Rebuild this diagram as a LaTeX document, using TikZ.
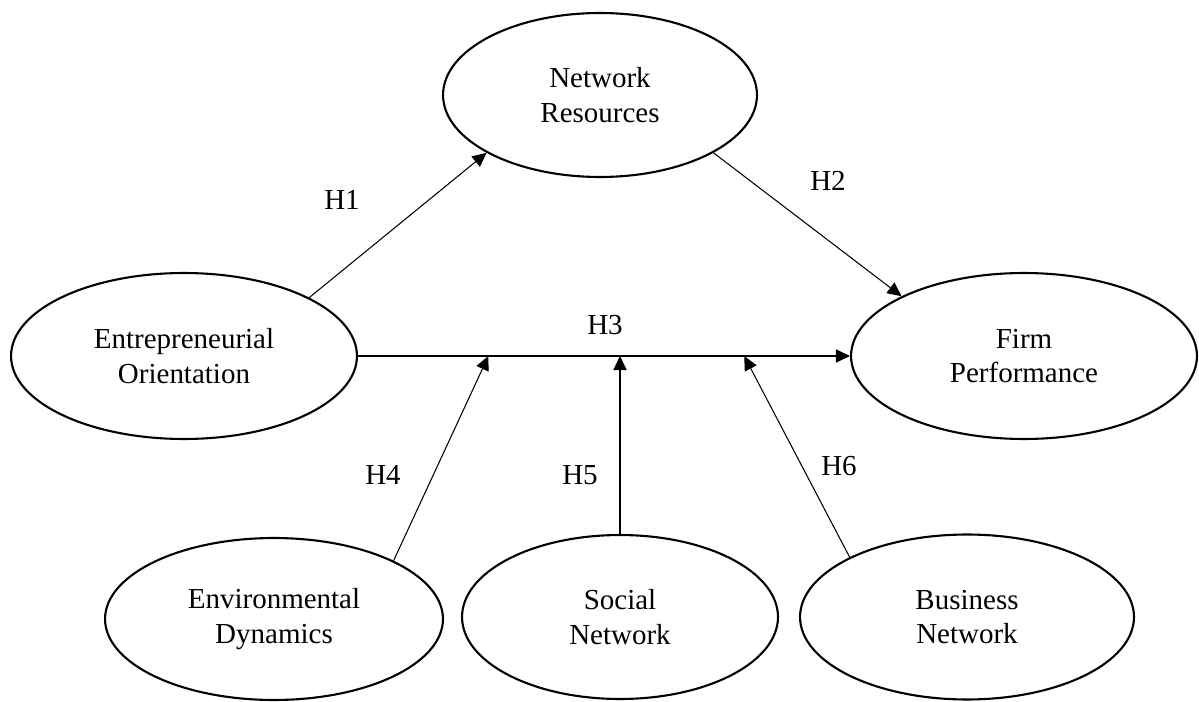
\documentclass[tikz,border=0pt]{standalone}
\usepackage{fontspec}
\setmainfont{Liberation Serif}
\usetikzlibrary{shapes.geometric,arrows.meta,calc}
\tikzset{
  var/.style={ellipse, draw, line width=1.2pt, inner sep=0pt, align=center,
    font=\fontsize{16.5}{19.85}\selectfont},
  link/.style={line width=0.6pt, -{Triangle[length=8pt,width=7.5pt]}},
  hyp/.style={font=\fontsize{16.5}{19.85}\selectfont, inner sep=0pt}
}
\begin{document}
\begin{tikzpicture}[x=0.02cm, y=-0.02cm]
\useasboundingbox (0,0) rectangle (1199,702);
\node[var, minimum width=6.28cm, minimum height=3.28cm] (NR) at (600,95) {Network\\Resources};
\node[var, minimum width=6.92cm, minimum height=3.32cm] (EO) at (184,356) {Entrepreneurial\\Orientation};
\node[var, minimum width=6.92cm, minimum height=3.32cm] (FP) at (1024,356) {Firm\\Performance};
\node[var, minimum width=6.76cm, minimum height=3.24cm] (ED) at (274,619) {Environmental\\Dynamics};
\node[var, minimum width=6.32cm, minimum height=3.28cm] (SN) at (620,617) {Social\\Network};
\node[var, minimum width=6.68cm, minimum height=3.30cm] (BN) at (967,617) {Business\\Network};

\draw[link] (EO.25.8) -- (NR.207.6);
\draw[link] (NR.-27.6) -- (FP.154.2);
\draw[link] (EO.east) -- (FP.west);

\coordinate (m4) at ($(EO.east)!0.265!(FP.west)$);
\coordinate (m5) at (SN.north |- EO.east);
\coordinate (m6) at ($(EO.east)!0.785!(FP.west)$);

\draw[link] (ED.26) -- (m4);
\draw[link] (SN.north) -- (m5);
\draw[link] (BN.153.4) -- (m6);

\node[hyp] (h1) at (342,200) {H1};
\node[hyp] (h2) at (828,181) {H2};
\node[hyp] (h3) at (605,325) {H3};
\node[hyp] (h4) at (383,475) {H4};
\node[hyp] (h5) at (580,475) {H5};
\node[hyp] (h6) at (839,466) {H6};
\end{tikzpicture}
\end{document}
